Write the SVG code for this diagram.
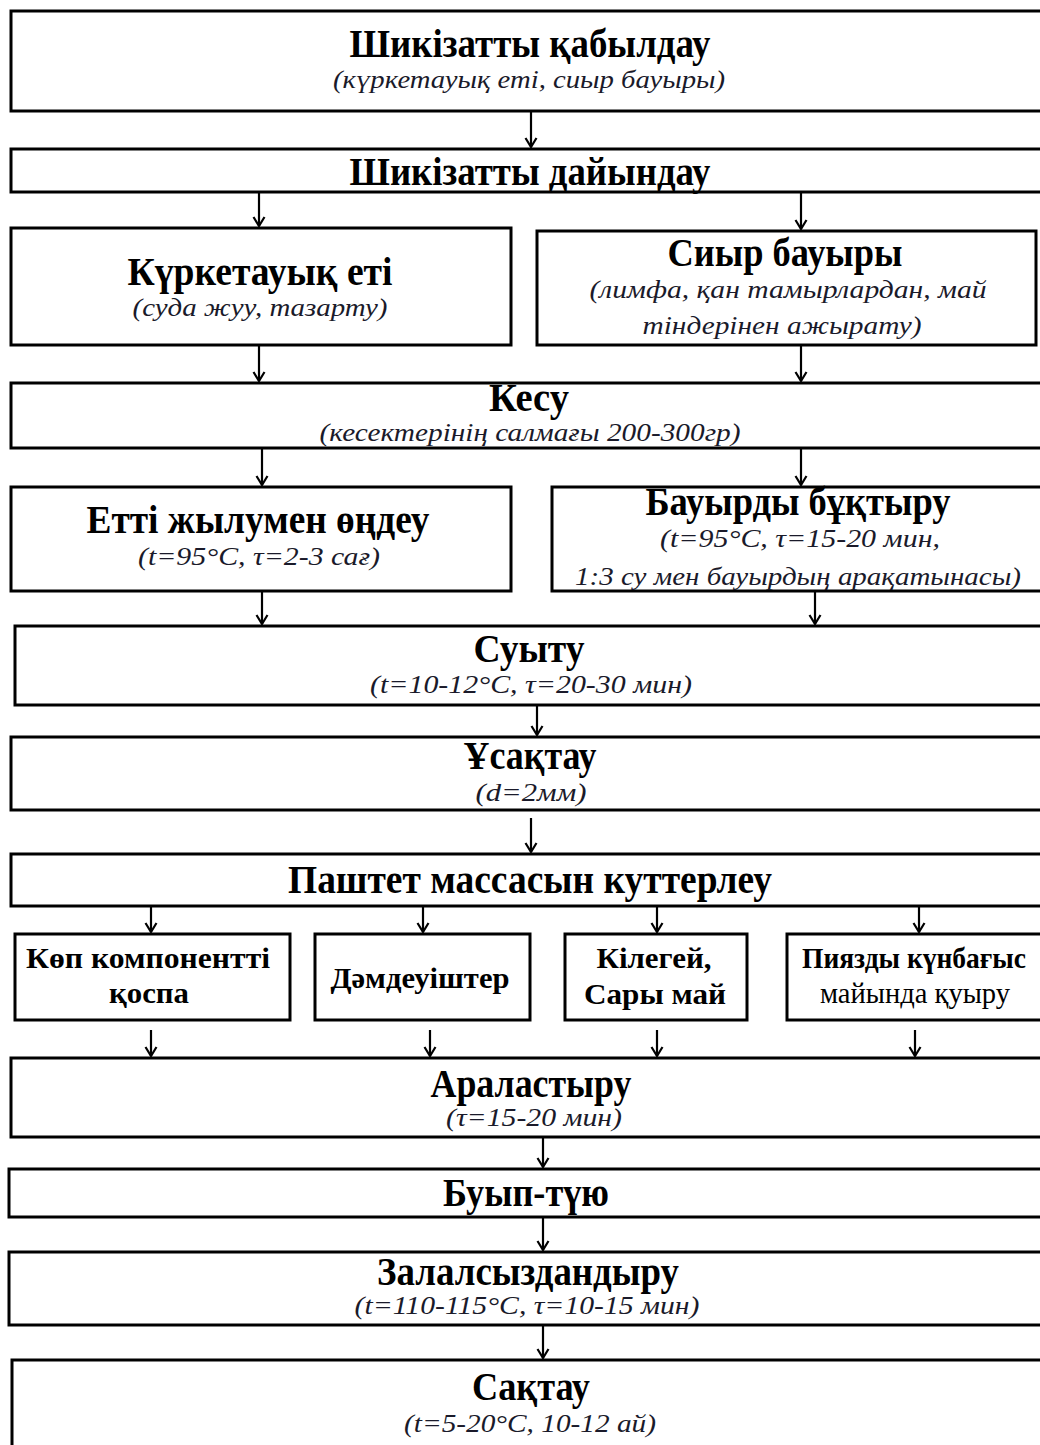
<svg xmlns="http://www.w3.org/2000/svg" width="1040" height="1445" viewBox="0 0 1040 1445">
<defs>
<marker id="arr" markerUnits="userSpaceOnUse" markerWidth="14" markerHeight="12" viewBox="0 0 14 12" refX="7" refY="11" orient="0">
<path d="M1.5,2 L7,11 L12.5,2" fill="none" stroke="#000" stroke-width="2.2"/>
</marker>
</defs>
<style>
rect{fill:#fff;stroke:#000;stroke-width:3}
text{font-family:"Liberation Serif","Times New Roman",serif;fill:#000;text-anchor:middle}
.t{font-size:39px;font-weight:bold}
.s{font-size:25px;font-style:italic;fill:#1a1a2a}
.m{font-size:30px;font-weight:bold}
.c line{stroke:#000;stroke-width:2.2;marker-end:url(#arr)}
</style>
<rect width="1040" height="1445" style="stroke:none"/>

<g id="n1"><rect x="11" y="11" width="1040" height="100"/>
<text class="t" x="530" y="57" textLength="361" lengthAdjust="spacingAndGlyphs">Шикізатты қабылдау</text>
<text class="s" x="529" y="88" textLength="392" lengthAdjust="spacingAndGlyphs">(күркетауық еті, сиыр бауыры)</text></g>

<g id="n2"><rect x="11" y="149" width="1040" height="43"/>
<text class="t" x="530" y="185" textLength="361" lengthAdjust="spacingAndGlyphs">Шикізатты дайындау</text></g>

<g id="n3"><rect x="11" y="228" width="500" height="117"/>
<text class="t" x="260" y="285" textLength="265" lengthAdjust="spacingAndGlyphs">Күркетауық еті</text>
<text class="s" x="260" y="316" textLength="255" lengthAdjust="spacingAndGlyphs">(суда жуу, тазарту)</text></g>

<g id="n4"><rect x="537" y="231" width="499" height="114"/>
<text class="t" x="785" y="266" textLength="235" lengthAdjust="spacingAndGlyphs">Сиыр бауыры</text>
<text class="s" x="788" y="298" textLength="397" lengthAdjust="spacingAndGlyphs">(лимфа, қан тамырлардан, май</text>
<text class="s" x="782" y="334" textLength="279" lengthAdjust="spacingAndGlyphs">тіндерінен ажырату)</text></g>

<g id="n5"><rect x="11" y="383" width="1040" height="65"/>
<text class="t" x="529" y="411" textLength="80" lengthAdjust="spacingAndGlyphs">Кесу</text>
<text class="s" x="530" y="441" textLength="421" lengthAdjust="spacingAndGlyphs">(кесектерінің салмағы 200-300гр)</text></g>

<g id="n6"><rect x="11" y="487" width="500" height="104"/>
<text class="t" x="258" y="533" textLength="343" lengthAdjust="spacingAndGlyphs">Етті жылумен өңдеу</text>
<text class="s" x="259" y="565" textLength="242" lengthAdjust="spacingAndGlyphs">(t=95°C,  τ=2-3 сағ)</text></g>

<g id="n7"><rect x="552" y="487" width="500" height="104"/>
<text class="t" x="798" y="515" textLength="305" lengthAdjust="spacingAndGlyphs">Бауырды  бұқтыру</text>
<text class="s" x="800" y="547" textLength="280" lengthAdjust="spacingAndGlyphs">(t=95°C,  τ=15-20 мин,</text>
<text class="s" x="798" y="585" textLength="446" lengthAdjust="spacingAndGlyphs">1:3 су мен бауырдың арақатынасы)</text></g>

<g id="n8"><rect x="15" y="626" width="1040" height="79"/>
<text class="t" x="529" y="662" textLength="111" lengthAdjust="spacingAndGlyphs">Суыту</text>
<text class="s" x="531" y="693" textLength="322" lengthAdjust="spacingAndGlyphs">(t=10-12°C,  τ=20-30 мин)</text></g>

<g id="n9"><rect x="11" y="737" width="1040" height="73"/>
<text class="t" x="530" y="769" textLength="133" lengthAdjust="spacingAndGlyphs">Ұсақтау</text>
<text class="s" x="531" y="801" textLength="111" lengthAdjust="spacingAndGlyphs">(d=2мм)</text></g>

<g id="n10"><rect x="11" y="854" width="1040" height="52"/>
<text class="t" x="530" y="893" textLength="484" lengthAdjust="spacingAndGlyphs">Паштет массасын  куттерлеу</text></g>

<g id="n11"><rect x="15" y="934" width="275" height="86"/>
<text class="m" x="148" y="968" textLength="244" lengthAdjust="spacingAndGlyphs">Көп компонентті</text>
<text class="m" x="149" y="1003" textLength="80" lengthAdjust="spacingAndGlyphs">қоспа</text></g>

<g id="n12"><rect x="315" y="934" width="215" height="86"/>
<text class="m" x="420" y="988" textLength="179" lengthAdjust="spacingAndGlyphs">Дәмдеуіштер</text></g>

<g id="n13"><rect x="565" y="934" width="182" height="86"/>
<text class="m" x="654" y="968" textLength="115" lengthAdjust="spacingAndGlyphs">Кілегей,</text>
<text class="m" x="655" y="1004" textLength="142" lengthAdjust="spacingAndGlyphs">Сары май</text></g>

<g id="n14"><rect x="787" y="934" width="260" height="86"/>
<text class="m" x="914" y="968" textLength="224" lengthAdjust="spacingAndGlyphs">Пиязды күнбағыс</text>
<text class="m" x="915" y="1003" textLength="190" lengthAdjust="spacingAndGlyphs" style="font-weight:normal">майында қуыру</text></g>

<g id="n15"><rect x="11" y="1058" width="1040" height="79"/>
<text class="t" x="531" y="1097" textLength="201" lengthAdjust="spacingAndGlyphs">Араластыру</text>
<text class="s" x="534" y="1126" textLength="176" lengthAdjust="spacingAndGlyphs">(τ=15-20 мин)</text></g>

<g id="n16"><rect x="9" y="1169" width="1040" height="48"/>
<text class="t" x="526" y="1206" textLength="166" lengthAdjust="spacingAndGlyphs">Буып-түю</text></g>

<g id="n17"><rect x="9" y="1252" width="1040" height="73"/>
<text class="t" x="528" y="1285" textLength="302" lengthAdjust="spacingAndGlyphs">Залалсыздандыру</text>
<text class="s" x="527" y="1314" textLength="345" lengthAdjust="spacingAndGlyphs">(t=110-115°C,  τ=10-15 мин)</text></g>

<g id="n18"><rect x="12" y="1360" width="1040" height="100"/>
<text class="t" x="531" y="1400" textLength="118" lengthAdjust="spacingAndGlyphs">Сақтау</text>
<text class="s" x="530" y="1432" textLength="252" lengthAdjust="spacingAndGlyphs">(t=5-20°C, 10-12 ай)</text></g>

<g id="connectors" class="c">
<line x1="531" y1="112" x2="531" y2="147"/>
<line x1="259" y1="193" x2="259" y2="226"/>
<line x1="801" y1="193" x2="801" y2="229"/>
<line x1="259" y1="346" x2="259" y2="381"/>
<line x1="801" y1="346" x2="801" y2="381"/>
<line x1="262" y1="449" x2="262" y2="485"/>
<line x1="801" y1="449" x2="801" y2="485"/>
<line x1="262" y1="592" x2="262" y2="624"/>
<line x1="815" y1="592" x2="815" y2="624"/>
<line x1="537" y1="706" x2="537" y2="735"/>
<line x1="531" y1="818" x2="531" y2="852"/>
<line x1="151" y1="907" x2="151" y2="932"/>
<line x1="423" y1="907" x2="423" y2="932"/>
<line x1="657" y1="907" x2="657" y2="932"/>
<line x1="919" y1="907" x2="919" y2="932"/>
<line x1="151" y1="1030" x2="151" y2="1056"/>
<line x1="430" y1="1030" x2="430" y2="1056"/>
<line x1="657" y1="1030" x2="657" y2="1056"/>
<line x1="915" y1="1030" x2="915" y2="1056"/>
<line x1="543" y1="1138" x2="543" y2="1167"/>
<line x1="543" y1="1218" x2="543" y2="1250"/>
<line x1="543" y1="1326" x2="543" y2="1358"/>
</g>
</svg>
